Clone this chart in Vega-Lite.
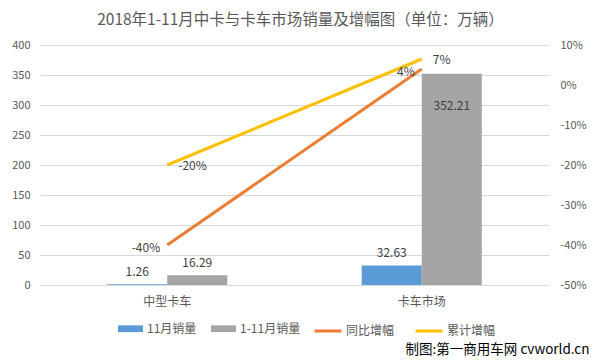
{
  "$schema": "https://vega.github.io/schema/vega-lite/v6.json",
  "width": 509,
  "height": 240,
  "autosize": {"type": "none"},
  "padding": {"left": 40, "top": 45, "right": 50, "bottom": 78},
  "background": "white",
  "title": {
    "text": "2018年1-11月中卡与卡车市场销量及增幅图（单位：万辆）",
    "font": "Noto Sans CJK SC",
    "fontSize": 15.5,
    "fontWeight": "normal",
    "color": "#595959",
    "anchor": "middle",
    "dx": 6,
    "offset": 11
  },
  "config": {
    "view": {"stroke": null},
    "font": "Noto Sans CJK SC",
    "axis": {"labelColor": "#595959", "labelFont": "Noto Sans CJK SC", "ticks": false, "domain": false, "gridColor": "#D9D9D9"},
    "legend": {"labelFont": "Noto Sans CJK SC", "labelFontSize": 12, "labelColor": "#595959"}
  },
  "layer": [
    {
      "data": {
        "values": [
          {"category": "中型卡车", "series": "11月销量", "value": 1.26},
          {"category": "中型卡车", "series": "1-11月销量", "value": 16.29},
          {"category": "卡车市场", "series": "11月销量", "value": 32.63},
          {"category": "卡车市场", "series": "1-11月销量", "value": 352.21}
        ]
      },
      "encoding": {
        "x": {
          "field": "category",
          "type": "nominal",
          "scale": {"domain": ["中型卡车", "卡车市场"], "paddingInner": 0.528, "paddingOuter": 0.264},
          "axis": {
            "labelAngle": 0,
            "labelFontSize": 12,
            "labelPadding": 11,
            "title": "制图:第一商用车网 cvworld.cn",
            "titleFont": "Noto Sans CJK SC",
            "titleFontSize": 13.5,
            "titleFontWeight": "normal",
            "titleColor": "#000000",
            "titleAnchor": "end",
            "titleAlign": "right",
            "titleBaseline": "middle",
            "titleX": 549,
            "titleY": 64
          }
        },
        "xOffset": {"field": "series", "type": "nominal", "scale": {"domain": ["11月销量", "1-11月销量"], "paddingInner": 0, "paddingOuter": 0}},
        "y": {
          "field": "value",
          "type": "quantitative",
          "scale": {"domain": [0, 400], "nice": false},
          "axis": {"values": [0, 50, 100, 150, 200, 250, 300, 350, 400], "title": null, "labelFontSize": 11, "labelPadding": 10, "grid": true}
        }
      },
      "layer": [
        {
          "mark": {"type": "bar"},
          "encoding": {
            "color": {
              "field": "series",
              "type": "nominal",
              "scale": {"domain": ["11月销量", "1-11月销量"], "range": ["#5B9BD5", "#A5A5A5"]},
              "legend": {
                "title": null,
                "orient": "none",
                "direction": "horizontal",
                "legendX": 78,
                "legendY": 271,
                "symbolType": "M-1,-0.27H1V0.27H-1Z",
                "symbolSize": 625,
                "symbolStrokeWidth": 0,
                "labelOffset": 4,
                "columnPadding": 14
              }
            }
          }
        },
        {
          "transform": [{"filter": "datum.value < 300"}],
          "mark": {"type": "text", "baseline": "middle", "dy": -12, "fontSize": 12, "color": "#404040"},
          "encoding": {"text": {"field": "value", "type": "quantitative", "format": ".2f"}}
        },
        {
          "transform": [{"filter": "datum.value >= 300"}],
          "mark": {"type": "text", "baseline": "middle", "dy": 32, "fontSize": 12, "color": "#404040"},
          "encoding": {"text": {"field": "value", "type": "quantitative", "format": ".2f"}}
        }
      ]
    },
    {
      "data": {
        "values": [
          {"category": "中型卡车", "series": "同比增幅", "rate": -0.40},
          {"category": "卡车市场", "series": "同比增幅", "rate": 0.04},
          {"category": "中型卡车", "series": "累计增幅", "rate": -0.20},
          {"category": "卡车市场", "series": "累计增幅", "rate": 0.065}
        ]
      },
      "transform": [{"calculate": "replace(format(datum.rate, '.0%'), '\u2212', '-')", "as": "label"}],
      "encoding": {
        "x": {"field": "category", "type": "nominal", "scale": {"domain": ["中型卡车", "卡车市场"]}},
        "y": {
          "field": "rate",
          "type": "quantitative",
          "scale": {"domain": [-0.5, 0.1], "nice": false},
          "axis": {"orient": "right", "values": [-0.5, -0.4, -0.3, -0.2, -0.1, 0, 0.1], "format": ".0%", "labelExpr": "replace(datum.label, '\u2212', '-')", "title": null, "labelFontSize": 11, "labelPadding": 11, "grid": false}
        }
      },
      "layer": [
        {
          "mark": {"type": "line", "strokeWidth": 3},
          "encoding": {
            "stroke": {
              "field": "series",
              "type": "nominal",
              "scale": {"domain": ["同比增幅", "累计增幅"], "range": ["#ED7D31", "#FFC000"]},
              "legend": {
                "title": null,
                "orient": "none",
                "direction": "horizontal",
                "legendX": 273,
                "legendY": 271,
                "symbolType": "stroke",
                "symbolSize": 729,
                "symbolStrokeWidth": 3,
                "labelOffset": 3,
                "columnPadding": 14
              }
            }
          }
        },
        {
          "transform": [{"filter": "datum.series == '累计增幅'"}],
          "mark": {"type": "text", "align": "left", "baseline": "middle", "dx": 11, "dy": 1, "fontSize": 12, "color": "#404040"},
          "encoding": {"text": {"field": "label", "type": "nominal"}}
        },
        {
          "transform": [{"filter": "datum.series == '同比增幅'"}],
          "mark": {"type": "text", "align": "right", "baseline": "middle", "dx": -7, "dy": 3, "fontSize": 12, "color": "#404040"},
          "encoding": {"text": {"field": "label", "type": "nominal"}}
        }
      ]
    }
  ],
  "resolve": {"scale": {"y": "independent", "color": "independent"}}
}
